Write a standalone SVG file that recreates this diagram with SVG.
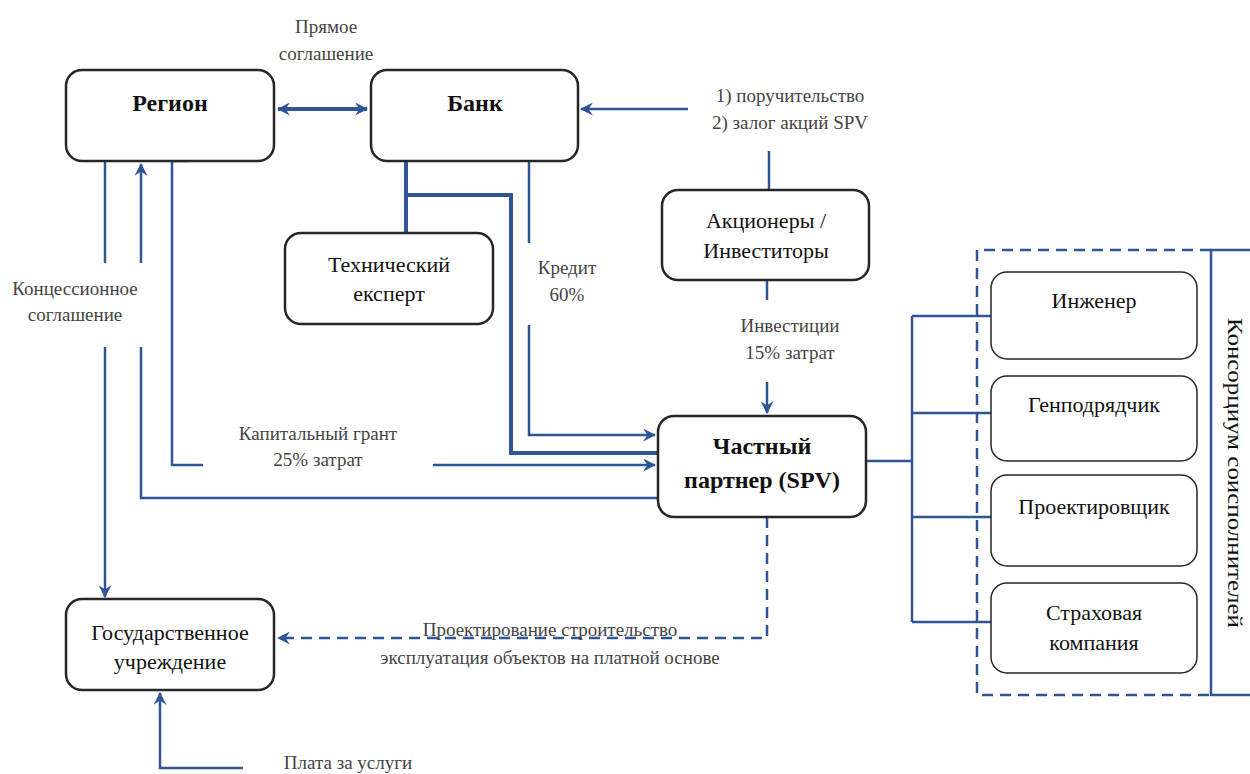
<svg xmlns="http://www.w3.org/2000/svg" width="1250" height="774" viewBox="0 0 1250 774">
<style>
text{font-family:"Liberation Serif","Tinos","DejaVu Serif","Noto Serif",serif}
.node{fill:#fff;stroke:#262626;stroke-width:2.5}
.sub{fill:#fff;stroke:#262626;stroke-width:1.5}
.t{font-size:22px;fill:#111;text-anchor:middle}
.b{font-size:24px;font-weight:bold;fill:#111;text-anchor:middle}
.l{font-size:19px;fill:#444;text-anchor:middle}
.c{fill:none;stroke:#2f5597;stroke-width:2.5}
.k{fill:none;stroke:#2f5597;stroke-width:4}
.d{fill:none;stroke:#2f5597;stroke-width:2.5;stroke-dasharray:11 7}
</style>
<defs>
<marker id="ah" viewBox="0 0 12 12" refX="11" refY="6" markerWidth="13" markerHeight="13" markerUnits="userSpaceOnUse" orient="auto-start-reverse">
<path d="M0,0 L12,6 L0,12 L4,6 z" fill="#2f5597"/>
</marker>
</defs>
<g id="connectors">
<line class="k" x1="278" y1="109" x2="367" y2="109" marker-start="url(#ah)" marker-end="url(#ah)"/>
<path class="c" d="M105,161 V263"/>
<path class="c" d="M105,347 V597" marker-end="url(#ah)"/>
<path class="c" d="M141,263 V164" marker-end="url(#ah)"/>
<path class="c" d="M141,347 V498 H658"/>
<path class="c" d="M189,161 H172 V465 H203"/>
<path class="c" d="M433,465 H655" marker-end="url(#ah)"/>
<path class="k" d="M406,161 V233"/>
<path class="k" d="M406,195 H511 V453 H658"/>
<path class="c" d="M529,161 V243"/>
<path class="c" d="M529,325 V435 H655" marker-end="url(#ah)"/>
<path class="c" d="M688,109 H581" marker-end="url(#ah)"/>
<path class="c" d="M769,151 V190"/>
<path class="c" d="M767,280 V300"/>
<path class="c" d="M767,382 V413" marker-end="url(#ah)"/>
<path class="d" d="M767,517 V638 H278" marker-end="url(#ah)"/>
<path class="c" d="M243,768 H160 V693" marker-end="url(#ah)"/>
<path class="c" d="M866,461 H912"/>
<path class="c" d="M912,316 V622"/>
<path class="c" d="M912,316 H991 M912,413 H991 M912,517 H991 M912,622 H991"/>
<path class="d" d="M1211,250 H977 V695 H1211"/>
<path class="c" d="M1250,250 H1211 V695 H1250"/>
</g>
<g id="labels">
<text class="l" x="326" y="33">Прямое</text>
<text class="l" x="326" y="60">соглашение</text>
<text class="l" x="790" y="102">1) поручительство</text>
<text class="l" x="790" y="129">2) залог акций SPV</text>
<text class="l" x="75" y="295">Концессионное</text>
<text class="l" x="75" y="321">соглашение</text>
<text class="l" x="567" y="274">Кредит</text>
<text class="l" x="567" y="301">60%</text>
<text class="l" x="790" y="332">Инвестиции</text>
<text class="l" x="790" y="359">15% затрат</text>
<text class="l" x="318" y="440">Капитальный грант</text>
<text class="l" x="318" y="466">25% затрат</text>
<text class="l" x="550" y="636">Проектирование строительство</text>
<text class="l" x="550" y="664">эксплуатация объектов на платной основе</text>
<text class="l" x="348" y="769">Плата за услуги</text>
<text class="t" transform="translate(1228,473) rotate(90)" textLength="310" lengthAdjust="spacingAndGlyphs">Консорциум соисполнителей</text>
</g>
<g id="region"><rect class="node" x="66" y="70" width="208" height="91" rx="16"/><text class="b" x="170" y="111">Регион</text></g>
<g id="bank"><rect class="node" x="371" y="70" width="207" height="91" rx="16"/><text class="b" x="475" y="111">Банк</text></g>
<g id="tech-expert"><rect class="node" x="285" y="233" width="208" height="91" rx="16"/><text class="t" x="389" y="272">Технический</text><text class="t" x="389" y="301">експерт</text></g>
<g id="shareholders"><rect class="node" x="662" y="190" width="207" height="90" rx="16"/><text class="t" x="766" y="228">Акционеры /</text><text class="t" x="766" y="258">Инвеститоры</text></g>
<g id="spv"><rect class="node" x="658" y="416" width="208" height="101" rx="16"/><text class="b" x="762" y="454">Частный</text><text class="b" x="762" y="488">партнер (SPV)</text></g>
<g id="gov"><rect class="node" x="66" y="599" width="208" height="91" rx="16"/><text class="t" x="170" y="640">Государственное</text><text class="t" x="170" y="669">учреждение</text></g>
<g id="engineer"><rect class="sub" x="991" y="272" width="206" height="87" rx="16"/><text class="t" x="1094" y="308">Инженер</text></g>
<g id="contractor"><rect class="sub" x="991" y="376" width="206" height="85" rx="16"/><text class="t" x="1094" y="412">Генподрядчик</text></g>
<g id="designer"><rect class="sub" x="991" y="475" width="206" height="91" rx="16"/><text class="t" x="1094" y="514">Проектировщик</text></g>
<g id="insurer"><rect class="sub" x="991" y="583" width="206" height="90" rx="16"/><text class="t" x="1094" y="620">Страховая</text><text class="t" x="1094" y="650">компания</text></g>
</svg>
